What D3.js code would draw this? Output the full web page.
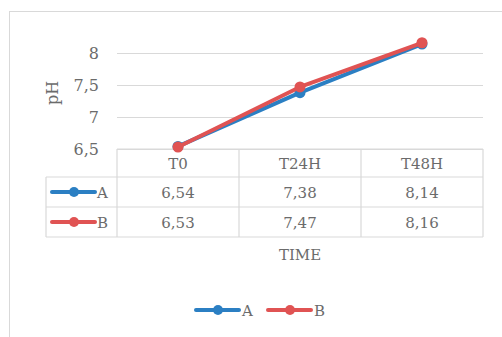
<!DOCTYPE html>
<html><head><meta charset="utf-8">
<script src="https://cdn.jsdelivr.net/npm/d3@7"></script>
<style>body{margin:0;background:#fff;} svg{display:block;} text{font-family:"DejaVu Serif",serif;fill:#6b6b6b;}</style>
</head><body><svg id="c" width="502" height="337"></svg>
<script>
const categories = ["T0", "T24H", "T48H"];
const seriesA = [6.54, 7.38, 8.14];
const seriesB = [6.53, 7.47, 8.16];
const seriesNames = ["A", "B"];
const yTicks = [6.5, 7, 7.5, 8];
const colors = ["#2b7fc3", "#e05353"];

const series = [seriesA, seriesB];
const fmt = v => String(v).replace(".", ",");
const svg = d3.select("#c");
const L = 117, R = 483, T = 53, B = 149;
const fs = 15;

svg.append("rect").attr("x", 9.5).attr("y", 11.5).attr("width", 520).attr("height", 360)
  .attr("fill", "none").attr("stroke", "#d9d9d9");

const x = d3.scaleBand().domain(categories).range([L, R]);
const y = d3.scaleLinear().domain([6.5, 8]).range([B, T]);

const g = svg.append("g");
yTicks.forEach(t => {
  g.append("line").attr("x1", L).attr("x2", R).attr("y1", Math.round(y(t)) + 0.5).attr("y2", Math.round(y(t)) + 0.5)
    .attr("stroke", "#d9d9d9").attr("stroke-width", 1.2);
  g.append("text").attr("x", 99).attr("y", y(t)).attr("dy", "0.35em").attr("text-anchor", "end")
    .attr("font-size", fs + 1).text(fmt(t));
});

svg.append("text").attr("transform", `translate(58,${(T + B) / 2 - 8}) rotate(-90)`).attr("text-anchor", "middle")
  .attr("font-size", fs + 1).text("pH");

// table
const rowH = [149, 177, 207, 237];
const tl = 46;
const tg = svg.append("g").attr("stroke", "#d9d9d9").attr("stroke-width", 1.2);
tg.append("line").attr("x1", L).attr("x2", R).attr("y1", rowH[0]).attr("y2", rowH[0]);
for (let i = 1; i < 4; i++) tg.append("line").attr("x1", tl).attr("x2", R).attr("y1", rowH[i]).attr("y2", rowH[i]);
tg.append("line").attr("x1", tl).attr("x2", tl).attr("y1", rowH[1]).attr("y2", rowH[3]);
const colEdges = [L].concat(categories.map(c => x(c) + x.bandwidth()));
colEdges.forEach(cx => tg.append("line").attr("x1", cx).attr("x2", cx).attr("y1", rowH[0]).attr("y2", rowH[3]));

categories.forEach(c => {
  svg.append("text").attr("x", x(c) + x.bandwidth() / 2).attr("y", (rowH[0] + rowH[1]) / 2 + 1).attr("dy", "0.35em")
    .attr("text-anchor", "middle").attr("font-size", fs).text(c);
});
series.forEach((s, i) => {
  const cy = (rowH[i + 1] + rowH[i + 2]) / 2;
  s.forEach((v, j) => {
    svg.append("text").attr("x", x(categories[j]) + x.bandwidth() / 2).attr("y", cy + 1).attr("dy", "0.35em")
      .attr("text-anchor", "middle").attr("font-size", fs).text(fmt(v));
  });
  svg.append("line").attr("x1", 52).attr("x2", 95).attr("y1", cy).attr("y2", cy)
    .attr("stroke", colors[i]).attr("stroke-width", 4).attr("stroke-linecap", "round");
  svg.append("circle").attr("cx", 74).attr("cy", cy).attr("r", 5).attr("fill", colors[i]);
  svg.append("text").attr("x", 97).attr("y", cy + 1).attr("dy", "0.35em").attr("font-size", fs).text(seriesNames[i]);
});

svg.append("text").attr("x", x(categories[1]) + x.bandwidth() / 2).attr("y", 255).attr("dy", "0.35em")
  .attr("text-anchor", "middle").attr("font-size", fs).text("TIME");

// lines
const line = d3.line().x((d, j) => x(categories[j]) + x.bandwidth() / 2).y(d => y(d));
series.forEach((s, i) => {
  svg.append("path").attr("d", line(s)).attr("fill", "none").attr("stroke", colors[i]).attr("stroke-width", 4)
    .attr("stroke-linejoin", "round").attr("stroke-linecap", "round");
  s.forEach((v, j) => svg.append("circle").attr("cx", x(categories[j]) + x.bandwidth() / 2).attr("cy", y(v)).attr("r", 5.5).attr("fill", colors[i]));
});

// legend
const leg = [{x0: 196, x1: 239, cx: 218, tx: 242}, {x0: 268, x1: 311, cx: 290, tx: 314}];
leg.forEach((l, i) => {
  svg.append("line").attr("x1", l.x0).attr("x2", l.x1).attr("y1", 310).attr("y2", 310)
    .attr("stroke", colors[i]).attr("stroke-width", 4).attr("stroke-linecap", "round");
  svg.append("circle").attr("cx", l.cx).attr("cy", 310).attr("r", 5).attr("fill", colors[i]);
  svg.append("text").attr("x", l.tx).attr("y", 311).attr("dy", "0.35em").attr("font-size", fs).text(seriesNames[i]);
});
</script></body></html>
